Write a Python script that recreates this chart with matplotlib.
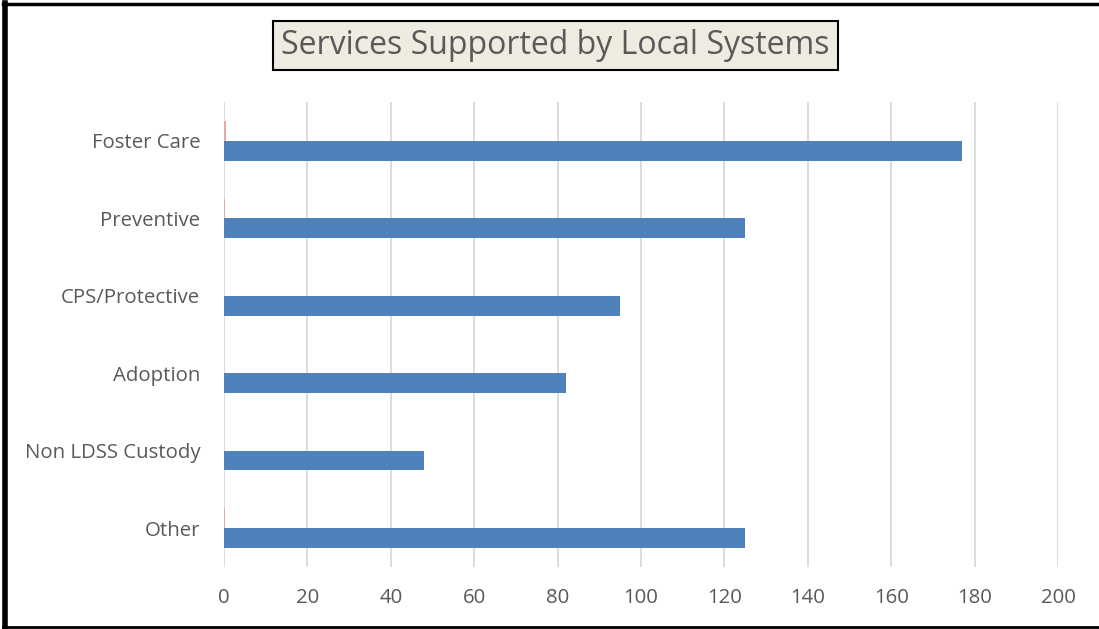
import matplotlib.pyplot as plt
from matplotlib.lines import Line2D
import numpy as np

# data
categories = ["Foster Care", "Preventive", "CPS/Protective", "Adoption", "Non LDSS Custody", "Other"]
main_values = [177, 125, 95, 82, 48, 125]
minor_values = [0.5, 0.2, 0, 0, 0.1, 0.3]
xticks = list(range(0, 201, 20))

plt.rcParams['font.family'] = ['Open Sans', 'DejaVu Sans']
text_col = '#595959'

fig = plt.figure(figsize=(10.99, 6.29), dpi=100)
ax = fig.add_axes([0.2038, 0.099, 0.7589, 0.7384])

y = np.arange(len(categories))
h = 0.256
ax.barh(y - h / 2, minor_values, height=h, color='#e8a8a3', zorder=3)
ax.barh(y + h / 2, main_values, height=h, color='#4f81bd', zorder=3)

ax.set_xlim(0, 200)
ax.set_ylim(len(categories) - 0.5, -0.5)
ax.set_xticks(xticks)
ax.set_yticks(y)
ax.set_yticklabels(categories)
ax.grid(axis='x', color='#d9d9d9', linewidth=1.3, zorder=0)
for s in ax.spines.values():
    s.set_visible(False)
ax.tick_params(axis='both', length=0, labelsize=14.7, labelcolor=text_col)
ax.tick_params(axis='x', pad=15)
ax.tick_params(axis='y', pad=17)

fig.text(0.5055, 0.927, "Services Supported by Local Systems", ha='center', va='center',
         fontsize=23, color=text_col,
         bbox=dict(boxstyle='square,pad=0.25', facecolor='#eeece1', edgecolor='black', linewidth=1.5))

# outer border
fig.add_artist(Line2D([0.005, 0.005], [0, 0.995], transform=fig.transFigure, color='black', linewidth=4))
fig.add_artist(Line2D([0.003, 1], [0.994, 0.994], transform=fig.transFigure, color='black', linewidth=2.5))
fig.add_artist(Line2D([0.003, 1], [0.003, 0.003], transform=fig.transFigure, color='black', linewidth=2))

plt.savefig("out.png", dpi=100)
